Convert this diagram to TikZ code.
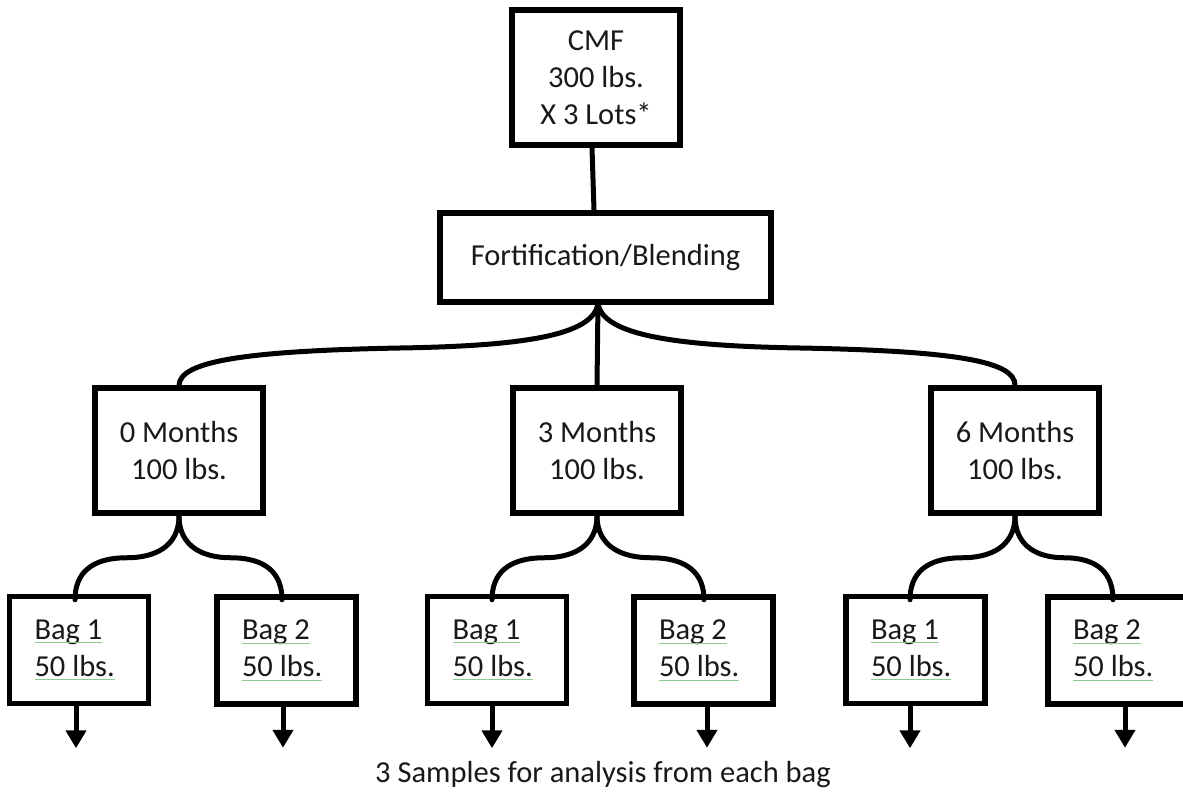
\documentclass[tikz,border=0pt]{standalone}
\usepackage{fontspec}
\setmainfont{Carlito}
\usetikzlibrary{arrows.meta,calc}
\definecolor{ulgreen}{HTML}{8CCB8C}
\newcommand\gul[1]{\setbox0\hbox{#1}\rlap{\usebox0}\textcolor{ulgreen}{\rule[-4pt]{\wd0}{0.9pt}}}
\tikzset{
  box/.style={draw, line width=5.5pt, inner sep=0pt, align=center, font=\fontsize{30.5}{37}\selectfont, text=black!90},
  monthbox/.style={box, minimum width=168pt, minimum height=125pt},
  bagbox/.style={box, minimum width=139pt, minimum height=107pt},
  conn/.style={line width=5pt, line cap=round},
  arr/.style={line width=5pt, -{Triangle[width=20pt,length=18pt]}}
}
\newcommand\bagtext[1]{\makebox[89pt][l]{\gul{Bag #1}}\\\makebox[89pt][l]{\gul{50 lbs.}}}
\begin{document}
\begin{tikzpicture}[x=1pt,y=-1pt]
\useasboundingbox (0,0) rectangle (1183,802);
\clip (0,0) rectangle (1183,802);
% top boxes
\node[box, minimum width=168pt, minimum height=135pt] (cmf) at (596,77.5) {CMF\\300 lbs.\\X 3 Lots*};
\node[box, minimum width=331pt, minimum height=89pt] (fort) at (605.5,257.5) {Fortification/Blending};
% month boxes
\node[monthbox] (m0) at (179,450.5) {0 Months\\100 lbs.};
\node[monthbox] (m3) at (597,450.5) {3 Months\\100 lbs.};
\node[monthbox] (m6) at (1015,450.5) {6 Months\\100 lbs.};
% bag boxes
\node[bagbox] (b01) at (79,650) {\bagtext{1}};
\node[bagbox] (b02) at (286.5,650.5) {\bagtext{2}};
\node[bagbox] (b31) at (497,650) {\bagtext{1}};
\node[bagbox] (b32) at (703.5,650.5) {\bagtext{2}};
\node[bagbox] (b61) at (915.5,650) {\bagtext{1}};
\node[bagbox] (b62) at (1117.5,650.5) {\bagtext{2}};
% caption
\node[anchor=base, font=\fontsize{30.5}{36}\selectfont, text=black!90] (cap) at (603,782) {3 Samples for analysis from each bag};
% connectors
\coordinate (jf) at (598,302);
\draw[conn] ([xshift=-4pt]cmf.south) -- ([xshift=-11.5pt]fort.north);
\draw[conn] (jf) -- (m3.north);
\draw[conn] (jf) .. controls (596,336) and (520,346) .. (400,348) .. controls (240,351) and (180,362) .. (m0.north);
\draw[conn] (jf) .. controls (600,336) and (680,346) .. (800,348) .. controls (960,351) and (1015,362) .. (m6.north);
% bag arms
\foreach \m/\l/\r/\bl/\br in {m0/-104/103/b01/b02, m3/-105/107/b31/b32, m6/-105/98/b61/b62}{
  \draw[conn] (\m.south) .. controls ($(\m.south)+(0,32)$) and ($(\m.south)+(\l*0.25,42)$) .. ($(\m.south)+(\l*0.5,42)$)
     .. controls ($(\m.south)+(\l*0.85,42)$) and ($(\m.south)+(\l,58)$) .. ($(\m.south)+(\l,84)$);
  \draw[conn] (\m.south) .. controls ($(\m.south)+(0,32)$) and ($(\m.south)+(\r*0.25,42)$) .. ($(\m.south)+(\r*0.5,42)$)
     .. controls ($(\m.south)+(\r*0.85,42)$) and ($(\m.south)+(\r,58)$) .. ($(\m.south)+(\r,84)$);
}
% arrows
\draw[arr] ([xshift=-3pt]b01.south) -- ++(0,42);
\draw[arr] ([xshift=-3.5pt]b02.south) -- ++(0,41);
\draw[arr] ([xshift=-5pt]b31.south) -- ++(0,42);
\draw[arr] ([xshift=3.5pt]b32.south) -- ++(0,41);
\draw[arr] ([xshift=-5.5pt]b61.south) -- ++(0,42);
\draw[arr] ([xshift=7.5pt]b62.south) -- ++(0,41);
\end{tikzpicture}
\end{document}
